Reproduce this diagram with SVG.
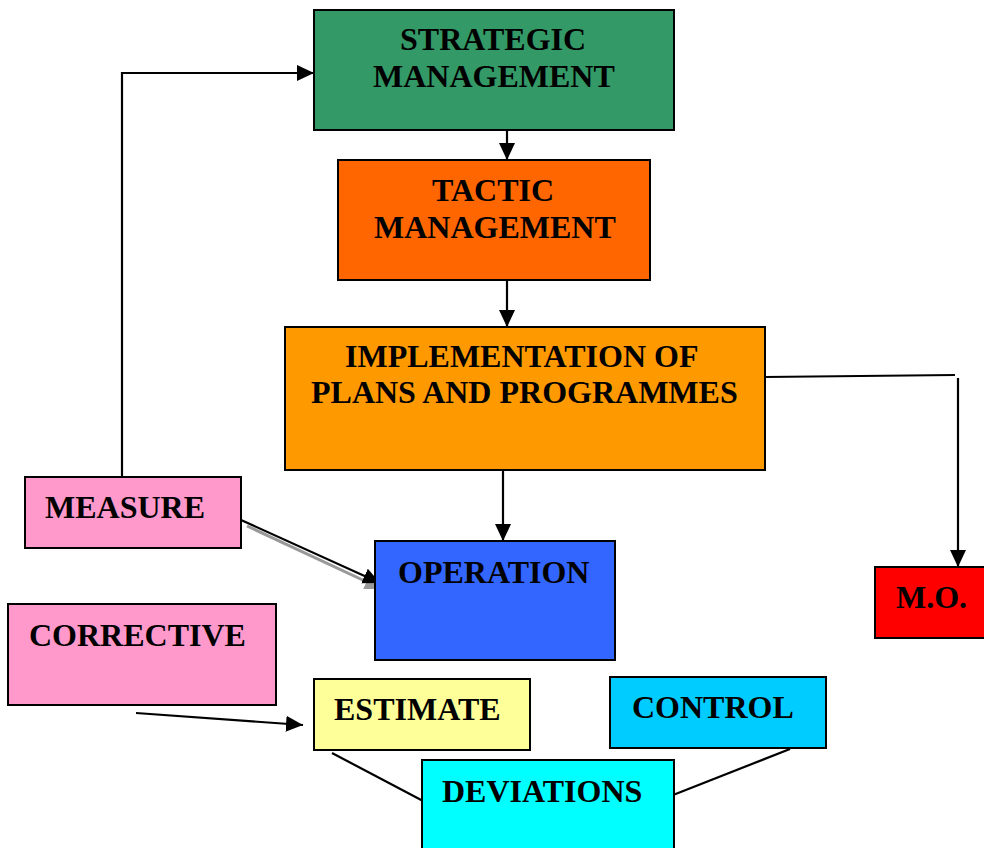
<svg xmlns="http://www.w3.org/2000/svg" width="984" height="848" viewBox="0 0 984 848">
<defs>
<style>
.box{stroke:#000;stroke-width:2}
.t{font-family:"Liberation Serif","Times New Roman",serif;font-weight:bold;font-size:32px;fill:#000}
.c{fill:none;stroke:#000;stroke-width:2.2}
.s{fill:none;stroke:#999;stroke-width:3}
</style>
<marker id="ah" markerUnits="userSpaceOnUse" markerWidth="18" markerHeight="18" refX="17" refY="8" orient="auto">
<path d="M0,0 L17,8 L0,16 Z" fill="#000"/>
</marker>
<marker id="ahg" markerUnits="userSpaceOnUse" markerWidth="18" markerHeight="18" refX="17" refY="8" orient="auto">
<path d="M0,0 L17,8 L0,16 Z" fill="#999"/>
</marker>
</defs>
<rect width="984" height="848" fill="#fff"/>
<g id="connectors">
<line class="s" x1="247" y1="526" x2="382" y2="589" marker-end="url(#ahg)"/>
<line class="c" x1="241" y1="520" x2="380" y2="583" marker-end="url(#ah)"/>
<line class="c" x1="507" y1="113" x2="507" y2="160" marker-end="url(#ah)"/>
<line class="c" x1="507" y1="280" x2="507" y2="327" marker-end="url(#ah)"/>
<line class="c" x1="503" y1="470" x2="503" y2="541" marker-end="url(#ah)"/>
<polyline class="c" points="765,377 955,375"/>
<line class="c" x1="958" y1="378" x2="958" y2="567" marker-end="url(#ah)"/>
<polyline class="c" points="122,477 122,73 314,73" marker-end="url(#ah)"/>
<line class="c" x1="136" y1="713" x2="303" y2="725" marker-end="url(#ah)"/>
<line class="c" x1="332" y1="753" x2="425" y2="802"/>
<line class="c" x1="790" y1="749" x2="668" y2="797"/>
</g>
<g id="strategic">
<rect class="box" x="314" y="10" width="360" height="120" fill="#339966"/>
<text class="t" x="400" y="50">STRATEGIC</text>
<text class="t" x="373" y="87">MANAGEMENT</text>
</g>
<g id="tactic">
<rect class="box" x="338" y="160" width="312" height="120" fill="#FF6600"/>
<text class="t" x="432" y="201">TACTIC</text>
<text class="t" x="374" y="238">MANAGEMENT</text>
</g>
<g id="implementation">
<rect class="box" x="285" y="327" width="480" height="143" fill="#FF9900"/>
<text class="t" x="345" y="367">IMPLEMENTATION OF</text>
<text class="t" x="311" y="403">PLANS AND PROGRAMMES</text>
</g>
<g id="measure">
<rect class="box" x="25" y="477" width="216" height="71" fill="#FF99CC"/>
<text class="t" x="45" y="518">MEASURE</text>
</g>
<g id="operation">
<rect class="box" x="375" y="541" width="240" height="119" fill="#3366FF"/>
<text class="t" x="398" y="583">OPERATION</text>
</g>
<g id="mo">
<rect class="box" x="875" y="567" width="112" height="71" fill="#FF0000"/>
<text class="t" x="896" y="608">M.O.</text>
</g>
<g id="corrective">
<rect class="box" x="8" y="604" width="268" height="101" fill="#FF99CC"/>
<text class="t" x="29" y="646">CORRECTIVE</text>
</g>
<g id="estimate">
<rect class="box" x="314" y="679" width="216" height="71" fill="#FFFF99"/>
<text class="t" x="334" y="720">ESTIMATE</text>
</g>
<g id="control">
<rect class="box" x="610" y="677" width="216" height="71" fill="#00CCFF"/>
<text class="t" x="632" y="718">CONTROL</text>
</g>
<g id="deviations">
<rect class="box" x="422" y="760" width="252" height="100" fill="#00FFFF"/>
<text class="t" x="442" y="802">DEVIATIONS</text>
</g>
</svg>
